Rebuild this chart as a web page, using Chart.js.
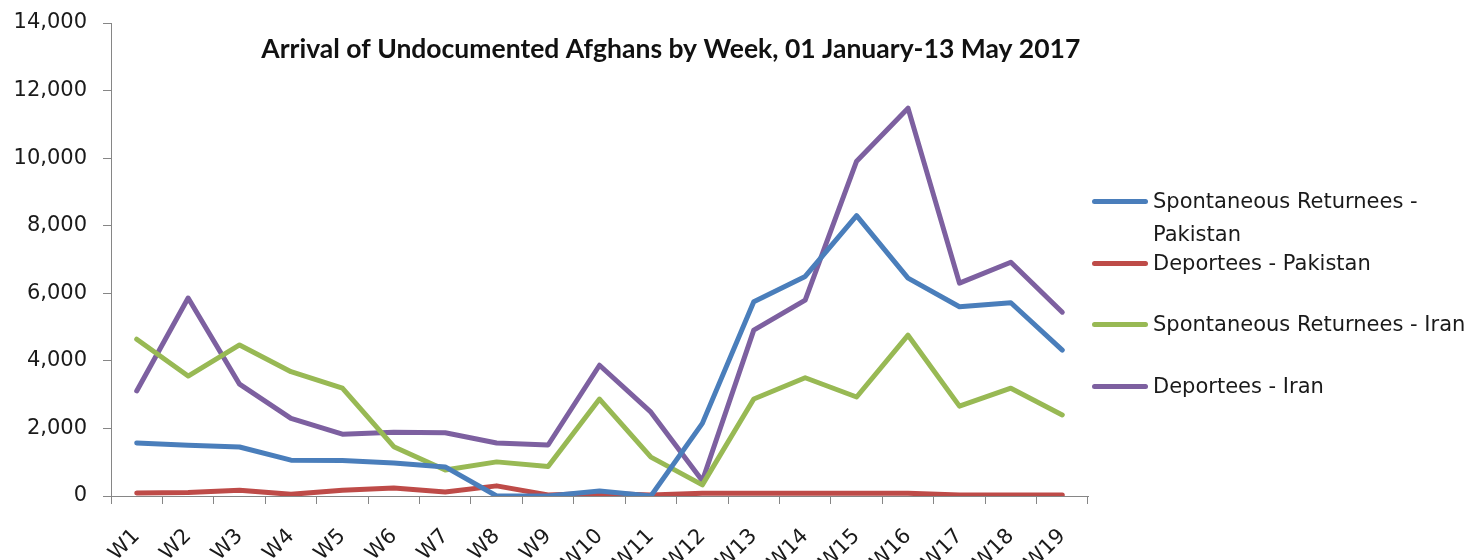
<!DOCTYPE html>
<html>
<head>
<meta charset="utf-8">
<script src="https://cdn.jsdelivr.net/npm/chart.js"></script>
<style>
  html, body { margin: 0; padding: 0; background: #fff; overflow: hidden; }
  #wrap { position: relative; width: 1483px; height: 560px; }
  #legend { position: absolute; left: 1092px; top: 0; width: 391px; height: 560px;
            font-family: "DejaVu Sans", sans-serif; font-size: 21px; color: #1a1a1a; }
  .item { position: absolute; left: 0; display: flex; align-items: flex-start; line-height: 33px; }
  .swatch { width: 56px; height: 5px; border-radius: 3px; margin-top: 14px; margin-right: 5px; flex: none; }
  .txt { width: 326px; }
</style>
</head>
<body>
<div id="wrap">
  <canvas id="grafico" width="1483" height="560"></canvas>
  <div id="legend"></div>
</div>
<script>
const semanas = ["W1","W2","W3","W4","W5","W6","W7","W8","W9","W10","W11","W12","W13","W14","W15","W16","W17","W18","W19"];
const espontaneosPaquistao = [1570,1500,1450,1060,1050,980,860,0,0,150,0,2150,5750,6500,8300,6450,5600,5720,4320];
const deportadosPaquistao = [90,100,170,50,170,240,120,300,30,80,30,80,80,80,80,80,30,30,30];
const espontaneosIra = [4640,3550,4470,3680,3190,1460,770,1010,870,2870,1150,330,2870,3500,2930,4760,2660,3190,2400];
const deportadosIra = [3110,5860,3310,2300,1830,1890,1870,1570,1510,3870,2480,450,4910,5800,9910,11480,6300,6920,5440];
const yTicks = [0,2000,4000,6000,8000,10000,12000,14000];
const titulo = "Arrival of Undocumented Afghans by Week, 01 January-13 May 2017";

const cinza = "#868686";
const fonte = { family: "'DejaVu Sans', sans-serif", size: 21 };

const tituloPlugin = {
  id: "tituloPlugin",
  afterDraw(chart) {
    const { ctx, chartArea } = chart;
    ctx.save();
    ctx.font = "bold 26.5px Lato, 'Open Sans', sans-serif";
    ctx.fillStyle = "#111";
    ctx.textAlign = "center";
    ctx.textBaseline = "middle";
    const x = chartArea.left + (chartArea.right - chartArea.left) * 0.573;
    ctx.fillText(titulo, x, chartArea.top + 26);
    ctx.restore();
  }
};

const ctx = document.getElementById("grafico").getContext("2d");
const chart = new Chart(ctx, {
  type: "line",
  data: {
    labels: semanas,
    datasets: [
      { label: "Spontaneous Returnees - Pakistan", data: espontaneosPaquistao, borderColor: "#4a7ebb" },
      { label: "Deportees - Pakistan", data: deportadosPaquistao, borderColor: "#be4b48" },
      { label: "Spontaneous Returnees - Iran", data: espontaneosIra, borderColor: "#98b954" },
      { label: "Deportees - Iran", data: deportadosIra, borderColor: "#7d60a0" }
    ].map(d => Object.assign(d, {
      borderWidth: 5, pointRadius: 0, pointHoverRadius: 0, tension: 0,
      borderJoinStyle: "round", borderCapStyle: "round", fill: false
    }))
  },
  options: {
    responsive: false,
    animation: false,
    devicePixelRatio: 1,
    layout: { padding: { left: 0, top: 23, right: 395, bottom: 0 } },
    plugins: { legend: { display: false }, title: { display: false }, tooltip: { enabled: false } },
    scales: {
      x: {
        offset: true,
        grid: { offset: true, drawOnChartArea: false, drawTicks: true, tickLength: 8, color: cinza },
        border: { color: cinza, width: 1 },
        ticks: { minRotation: 45, maxRotation: 45, autoSkip: false, padding: 20, color: "#1a1a1a", font: fonte },
        afterFit(s) { s.height = 64; s.paddingLeft = 0; s.paddingRight = 0; }
      },
      y: {
        min: 0, max: 14000,
        afterBuildTicks(s) { s.ticks = yTicks.map(v => ({ value: v })); },
        grid: { drawOnChartArea: false, drawTicks: true, tickLength: 8, color: cinza },
        border: { color: cinza, width: 1 },
        ticks: { padding: 16, color: "#1a1a1a", font: fonte, callback: v => v.toLocaleString("en-US") },
        afterFit(s) { s.width = 111; s.paddingTop = 0; s.paddingBottom = 0; }
      }
    }
  },
  plugins: [tituloPlugin]
});

// legenda em HTML
const topos = [185, 247, 308, 370];
const legendEl = document.getElementById("legend");
chart.data.datasets.forEach((ds, i) => {
  const item = document.createElement("div");
  item.className = "item";
  item.style.top = topos[i] + "px";
  item.innerHTML = `<span class="swatch" style="background:${ds.borderColor}"></span><span class="txt">${ds.label}</span>`;
  legendEl.appendChild(item);
});
</script>
</body>
</html>
